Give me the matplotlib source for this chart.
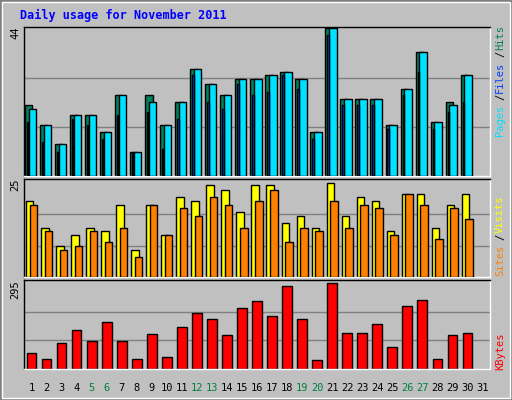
import matplotlib
matplotlib.use("Agg")
import matplotlib.pyplot as plt
import numpy as np

days = list(range(1, 32))
hits = [21.3,15.3,9.4,18.3,18.3,13.2,24.3,7.3,24.3,15.3,22.2,32,27.3,24.3,29,29,30.2,31.1,29,13.2,44,23,23,23,15.3,26,37,16.2,22.2,30.2]
files = [20.1,15.3,9.4,18.3,18.3,13.2,24.3,7.3,22.2,15.3,22.2,32,27.3,24.3,29,29,30.2,31.1,29,13.2,44,23,23,23,15.3,26,37,16.2,21.3,30.2]
pages = [16.2,10.2,7.3,17.1,15.3,11.1,18.3,7.3,19.2,8.2,17.1,30.2,22.2,20.1,27.3,24.3,25.2,30.2,26,11.1,42.2,21.3,21.3,21.3,14.1,24.3,31.1,14.1,19.2,22.2]
visits = [20.2,13.1,8.2,11.2,13.1,12.3,19.1,7.1,19.1,11.2,21.3,20.2,24.3,23.2,17.2,24.3,24.3,14.2,16.1,13.1,25,16.1,21.3,20.2,12.3,22.1,22.1,13.1,19.1,22.1]
sites = [19.1,12.3,7.1,8.2,12.3,9.3,13.1,5.2,19.1,11.2,18.3,16.1,21.3,19.1,13.1,20.2,23.2,9.3,13.1,12.3,20.2,13.1,19.1,18.3,11.2,22.1,19.1,10.1,18.3,15.3]
kbytes = [56,35,88,134,95,163,95,35,120,42,145,192,174,117,210,235,181,285,174,31,295,124,124,156,77,217,238,35,117,124]
weekend = [5,6,12,13,19,20,26,27]

W, H = 512, 400
fig = plt.figure(figsize=(W/100, H/100), dpi=100, facecolor="#c0c0c0")
# outer raised border
fig.patches.append(plt.Rectangle((0,0),1,1,transform=fig.transFigure,fill=False,edgecolor="#808080",lw=2))
fig.patches.append(plt.Rectangle((2/W,2/H),1-4/W,1-4/H,transform=fig.transFigure,fill=False,edgecolor="white",lw=1))

def mkax(top, bottom):
    ax = fig.add_axes([24/W, 1-bottom/H, (490-24)/W, (bottom-top)/H])
    ax.set_facecolor("#c0c0c0")
    ax.set_xlim(0.5, 31.5)
    ax.set_xticks([]); ax.set_yticks([])
    for s in ax.spines.values():
        s.set_color("black"); s.set_linewidth(1)
    ax.spines['bottom'].set_color("white"); ax.spines['right'].set_color("white")
    return ax

x = np.arange(1, 31)
ec = dict(edgecolor="black", linewidth=1)

ax1 = mkax(27, 176)
ax1.set_ylim(0, 44*1.01)
for g in (44/3, 88/3):
    ax1.axhline(g, color="#808080", lw=1, zorder=0)
ax1.bar(x-0.2, hits, width=0.5, color="#00805c", align="center", zorder=2, **ec)
ax1.bar(x+0.05, files, width=0.5, color="#00e0ff", zorder=3, **ec)
ax1.bar(x-0.27, pages, width=0.1, color="#0040ff", zorder=4, **ec)

ax2 = mkax(179, 277)
ax2.set_ylim(0, 25*1.04)
for g in (25/3, 50/3):
    ax2.axhline(g, color="#808080", lw=1, zorder=0)
ax2.bar(x-0.12, visits, width=0.5, color="#ffff00", zorder=2, **ec)
ax2.bar(x+0.12, sites, width=0.5, color="#ff8000", zorder=3, **ec)

ax3 = mkax(280, 369)
ax3.set_ylim(0, 295*1.04)
for g in (295/3, 590/3):
    ax3.axhline(g, color="#808080", lw=1, zorder=0)
ax3.bar(x, kbytes, width=0.65, color="#ff0000", zorder=2, **ec)

# day labels
for d in days:
    xf = (24 + (d-0.5)/31*(490-24))/W
    fig.text(xf, 1-388/H, str(d), ha="center", va="center", fontsize=7.5,
             family="DejaVu Sans Mono", color="#008040" if d in weekend else "black")

mono = "DejaVu Sans Mono"
fig.text(20/W, 1-15/H, "Daily usage for November 2011", fontsize=8.5, fontweight="bold",
         family=mono, color="#0000ff", va="center", ha="left")
fig.text(15/W, 1-33/H, "44", rotation=90, fontsize=7.5, family=mono, va="center", ha="center")
fig.text(15/W, 1-185/H, "25", rotation=90, fontsize=7.5, family=mono, va="center", ha="center")
fig.text(15/W, 1-290/H, "295", rotation=90, fontsize=7.5, family=mono, va="center", ha="center")

def vlabel(ybottom, parts):
    # parts from bottom up
    y = ybottom
    for txt, col in parts:
        t = fig.text(500/W, 1-y/H, txt, rotation=90, fontsize=7.5, family=mono, color=col,
                     va="bottom", ha="center")
        y -= len(txt)*7.2
vlabel(136, [("Pages", "#00e0ff"), ("/", "black"), ("Files", "#0040ff"), ("/", "black"), ("Hits", "#00805c")])
vlabel(276, [("Sites", "#ff8000"), ("/", "black"), ("Visits", "#ffff00")])
vlabel(370, [("KBytes", "#ff0000")])

fig.savefig("out.png", dpi=100, facecolor=fig.get_facecolor())
